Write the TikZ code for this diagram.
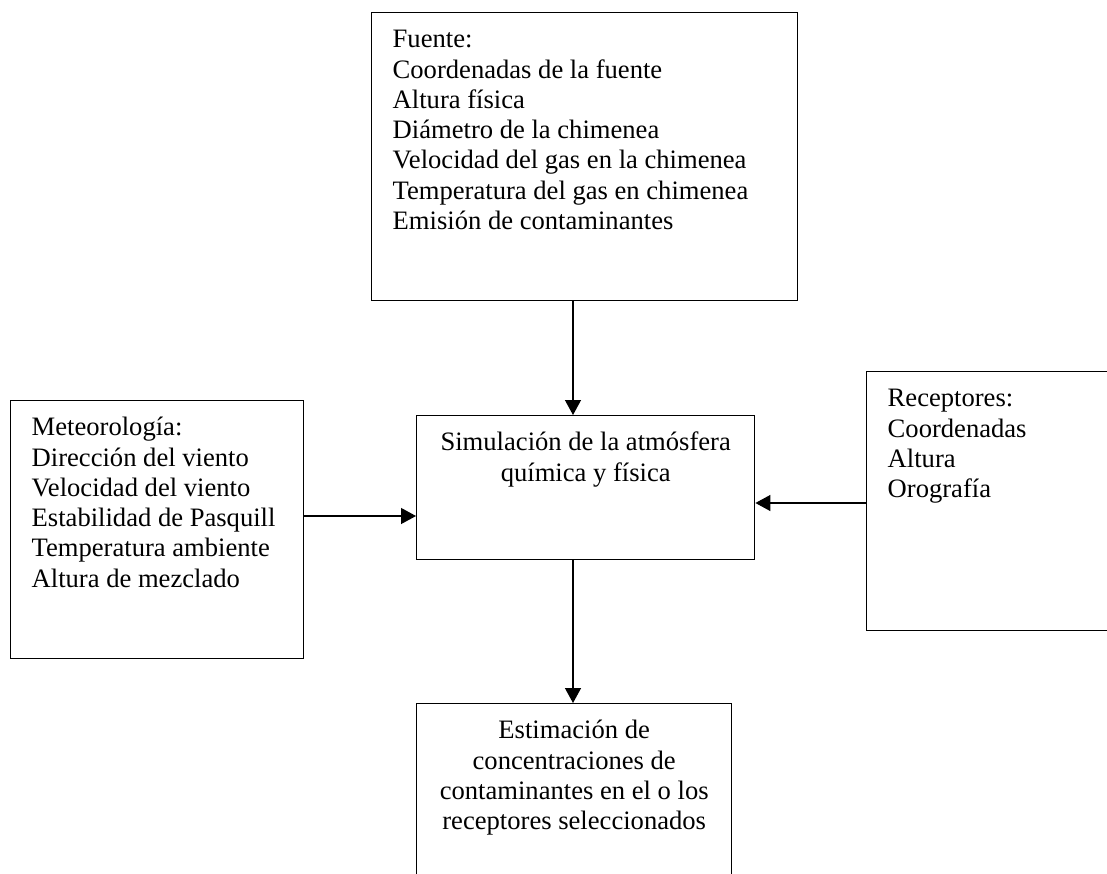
\documentclass[tikz,border=0pt]{standalone}
\usepackage{fontspec}
\setmainfont{Liberation Serif}
\usetikzlibrary{arrows.meta}
\newcommand{\leftbox}[3]{\parbox[c][#2][t]{#1}{\raggedright\leftskip=21pt\rule{0pt}{35pt}#3}}
\newcommand{\centerbox}[3]{\parbox[c][#2][t]{#1}{\centering\rule{0pt}{35pt}#3}}
\tikzset{
  panel/.style={draw, line width=1.4pt, inner sep=0pt, anchor=north west,
    font=\fontsize{26.6pt}{30.3pt}\selectfont},
  arr/.style={line width=1.3pt, -{Triangle[length=15pt,width=16pt]}}
}
\begin{document}
\begin{tikzpicture}[x=1pt, y=-1pt]
\useasboundingbox (0,0) rectangle (1107,873);
\fill[white] (0,0) rectangle (1107,873);
\clip (0,0) rectangle (1107,873);
\node[panel] (fuente) at (371,12) {\leftbox{426pt}{288pt}{Fuente:\\
Coordenadas de la fuente\\
Altura física\\
Diámetro de la chimenea\\
Velocidad del gas en la chimenea\\
Temperatura del gas en chimenea\\
Emisión de contaminantes}};
\node[panel] (met) at (10,400) {\leftbox{293pt}{258pt}{Meteorología:\\
Dirección del viento\\
Velocidad del viento\\
Estabilidad de Pasquill\\
Temperatura ambiente\\
Altura de mezclado}};
\node[panel] (sim) at (416,415) {\centerbox{338pt}{144pt}{Simulación de la atmósfera\\
química y física}};
\node[panel] (rec) at (866,371) {\leftbox{270pt}{259pt}{Receptores:\\
Coordenadas\\
Altura\\
Orografía}};
\node[panel] (est) at (416,703) {\centerbox{315pt}{200pt}{Estimación de\\
concentraciones de\\
contaminantes en el o los\\
receptores seleccionados}};
\coordinate (vx) at (573,0);
\coordinate (hy1) at (0,516);
\coordinate (hy2) at (0,503);
\draw[arr] (fuente.south -| vx) -- (sim.north -| vx);
\draw[arr] (met.east |- hy1) -- (sim.west |- hy1);
\draw[arr] (rec.west |- hy2) -- (sim.east |- hy2);
\draw[arr] (sim.south -| vx) -- (est.north -| vx);
\end{tikzpicture}
\end{document}
